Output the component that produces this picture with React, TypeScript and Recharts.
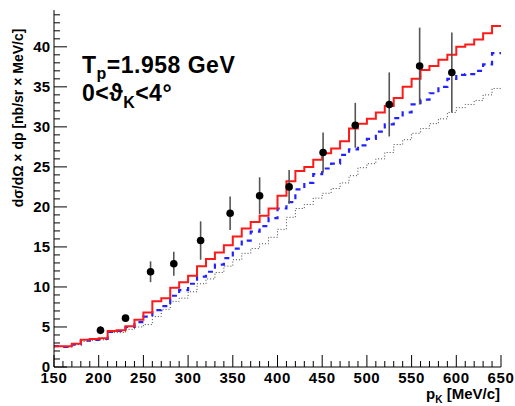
import { ComposedChart, Line, Scatter, ErrorBar, XAxis, YAxis } from 'recharts';

// histogram bins (lower edge, MeV/c), 10 MeV wide
const binStarts = [
  150, 160, 170, 180, 190, 200, 210, 220, 230, 240,
  250, 260, 270, 280, 290, 300, 310, 320, 330, 340,
  350, 360, 370, 380, 390, 400, 410, 420, 430, 440,
  450, 460, 470, 480, 490, 500, 510, 520, 530, 540,
  550, 560, 570, 580, 590, 600, 610, 620, 630, 640,
];
const upperEdge = 650;

// model curves (solid red, dashed blue, dotted grey)
const redModel = [
  2.6, 2.6, 2.9, 3.4, 3.5, 3.6, 4.5, 4.6, 5.1, 5.9,
  6.8, 8.2, 8.6, 9.9, 10.6, 11.4, 12.6, 13.5, 14.3, 15.2,
  16.3, 17.3, 18.1, 18.9, 19.8, 21.4, 23.2, 24.5, 25.0, 25.9,
  26.7, 27.3, 28.2, 29.8, 30.4, 31.0, 31.8, 32.6, 33.6, 35.0,
  36.0, 37.1, 37.6, 38.4, 39.0, 40.0, 40.3, 40.9, 41.7, 42.6,
];
const blueModel = [
  2.6, 2.5, 2.8, 3.3, 3.4, 3.5, 4.4, 4.5, 5.0, 5.6,
  6.3, 7.1, 7.6, 8.9, 9.6, 10.4, 11.3, 11.9, 12.8, 13.6,
  14.8, 15.8, 16.9, 17.6, 18.6, 19.8, 20.6, 22.2, 23.0, 24.1,
  24.8, 25.4, 26.5, 27.2, 27.7, 28.5, 29.4, 30.3, 31.1, 31.8,
  32.8, 33.4, 34.2, 35.0, 36.0, 36.5, 36.6, 37.0, 37.8, 39.2,
];
const grayModel = [
  2.6, 2.5, 2.8, 3.2, 3.3, 3.4, 4.3, 4.3, 4.7, 5.0,
  5.3, 6.3, 7.2, 8.2, 8.6, 9.4, 10.4, 11.0, 11.8, 12.6,
  13.4, 14.2, 14.8, 15.4, 16.2, 17.2, 18.7, 19.8, 20.3, 21.1,
  21.7, 22.3, 23.0, 23.9, 24.9, 25.4, 26.0, 26.8, 27.8, 28.4,
  29.2, 29.8, 30.4, 31.0, 31.8, 32.4, 32.8, 33.3, 34.0, 34.8,
];

// measured points
const dataP = [202, 230, 258, 284, 314, 347, 380, 413, 451, 487, 525, 559, 595];
const dataY = [4.6, 6.1, 11.9, 12.9, 15.8, 19.2, 21.4, 22.5, 26.8, 30.2, 32.8, 37.6, 36.8];
const dataErr = [0.5, 0.4, 1.3, 1.5, 2.4, 2.1, 2.3, 2.1, 2.5, 2.8, 4.0, 4.8, 5.0];

const xTicks = [
  150, 160, 170, 180, 190, 200, 210, 220, 230, 240,
  250, 260, 270, 280, 290, 300, 310, 320, 330, 340,
  350, 360, 370, 380, 390, 400, 410, 420, 430, 440,
  450, 460, 470, 480, 490, 500, 510, 520, 530, 540,
  550, 560, 570, 580, 590, 600, 610, 620, 630, 640, 650,
];
const xLabels = [150, 200, 250, 300, 350, 400, 450, 500, 550, 600, 650];
const yTicks = [
  0, 1, 2, 3, 4, 5, 6, 7, 8, 9, 10, 11, 12, 13, 14, 15, 16, 17, 18, 19, 20, 21, 22,
  23, 24, 25, 26, 27, 28, 29, 30, 31, 32, 33, 34, 35, 36, 37, 38, 39, 40, 41, 42, 43, 44,
];
const yLabels = [0, 5, 10, 15, 20, 25, 30, 35, 40];

const last = binStarts.length - 1;
const histData = binStarts.map((p, i) => ({ p, red: redModel[i], blue: blueModel[i], gray: grayModel[i] }));
histData.push({ p: upperEdge, red: redModel[last], blue: blueModel[last], gray: grayModel[last] });

const pointData = dataP.map((p, i) => ({ p, y: dataY[i], err: dataErr[i] }));

const FONT = '"Liberation Sans", Arial, Helvetica, sans-serif';
const X_TICK_MARGIN = 16;
const Y_TICK_MARGIN = 4;

const XTick = (props: any) => {
  const { x, y, payload } = props;
  const base = y - X_TICK_MARGIN;
  const major = xLabels.includes(payload.value);
  return (
    <g>
      <line x1={x} x2={x} y1={base} y2={base - (major ? 12 : 6)} stroke="#000" strokeWidth={1} />
      {major && (
        <text x={x} y={base + 16} textAnchor="middle" fontFamily={FONT} fontWeight="bold" fontSize={15} letterSpacing={0.6} fill="#000">
          {payload.value}
        </text>
      )}
    </g>
  );
};

const YTick = (props: any) => {
  const { x, y, payload } = props;
  const base = x + Y_TICK_MARGIN;
  const major = yLabels.includes(payload.value);
  return (
    <g>
      <line x1={base} x2={base + (major ? 13 : 6)} y1={y} y2={y} stroke="#000" strokeWidth={1} />
      {major && (
        <text x={base - 4} y={y + 5} textAnchor="end" fontFamily={FONT} fontWeight="bold" fontSize={15} fill="#000">
          {payload.value}
        </text>
      )}
    </g>
  );
};

const Dot = (props: any) => <circle cx={props.cx} cy={props.cy} r={3.8} fill="#000" />;

export default function App() {
  return (
    <div style={{ position: 'absolute', left: 0, top: 0, width: 515, height: 406, background: '#fff' }}>
      <ComposedChart width={515} height={406} data={histData} margin={{ top: 10, right: 14, left: 0, bottom: 0 }}>
        <XAxis
          dataKey="p"
          type="number"
          domain={[150, 650]}
          ticks={xTicks}
          interval={0}
          tick={<XTick />}
          tickLine={false}
          tickSize={0}
          tickMargin={X_TICK_MARGIN}
          height={39}
          axisLine={{ stroke: '#000', strokeWidth: 1 }}
          allowDataOverflow
        />
        <XAxis xAxisId="top" orientation="top" type="number" domain={[150, 650]} tick={false} tickLine={false} height={0} axisLine={{ stroke: '#aaa', strokeWidth: 1.5 }} />
        <YAxis
          type="number"
          domain={[0, 44.6]}
          ticks={yTicks}
          interval={0}
          tick={<YTick />}
          tickLine={false}
          tickSize={0}
          tickMargin={Y_TICK_MARGIN}
          width={54}
          axisLine={{ stroke: '#000', strokeWidth: 1 }}
          allowDataOverflow
        />
        <YAxis yAxisId="right" orientation="right" type="number" domain={[0, 44.6]} tick={false} tickLine={false} width={0} axisLine={{ stroke: '#aaa', strokeWidth: 1.5 }} />
        <Line type="stepAfter" dataKey="gray" stroke="#444" strokeWidth={1} strokeDasharray="1 2" dot={false} isAnimationActive={false} />
        <Line type="stepAfter" dataKey="blue" stroke="#2222ff" strokeWidth={2.2} strokeDasharray="5 5" dot={false} isAnimationActive={false} />
        <Line type="stepAfter" dataKey="red" stroke="#ff1a1a" strokeWidth={2} dot={false} isAnimationActive={false} />
        <Scatter data={pointData} dataKey="y" shape={<Dot />} isAnimationActive={false}>
          <ErrorBar dataKey="err" direction="y" width={0} stroke="#555" strokeWidth={1.6} />
        </Scatter>
      </ComposedChart>
      <svg width={515} height={406} style={{ position: 'absolute', left: 0, top: 0, pointerEvents: 'none' }}>
        <text x={82} y={73} fontFamily={FONT} fontWeight="bold" fontSize={23} letterSpacing={0.5} fill="#000">
          T<tspan fontSize={16} dy={6}>p</tspan>
          <tspan dy={-6}>=1.958 GeV</tspan>
        </text>
        <text x={82} y={101} fontFamily={FONT} fontWeight="bold" fontSize={23} letterSpacing={0.5} fill="#000">
          0&lt;ϑ<tspan fontSize={16} dy={7}>K</tspan>
          <tspan dy={-7}>&lt;4°</tspan>
        </text>
        <text x={500} y={399} textAnchor="end" fontFamily={FONT} fontWeight="bold" fontSize={15} fill="#000">
          p<tspan fontSize={10} dy={4}>K</tspan>
          <tspan dy={-4}> [MeV/c]</tspan>
        </text>
        <text
          x={23}
          y={118}
          transform="rotate(-90 23 118)"
          textAnchor="middle"
          fontFamily={FONT}
          fontWeight="bold"
          fontSize={14}
          fill="#000"
        >
          dσ/dΩ × dp [nb/sr × MeV/c]
        </text>
      </svg>
    </div>
  );
}
